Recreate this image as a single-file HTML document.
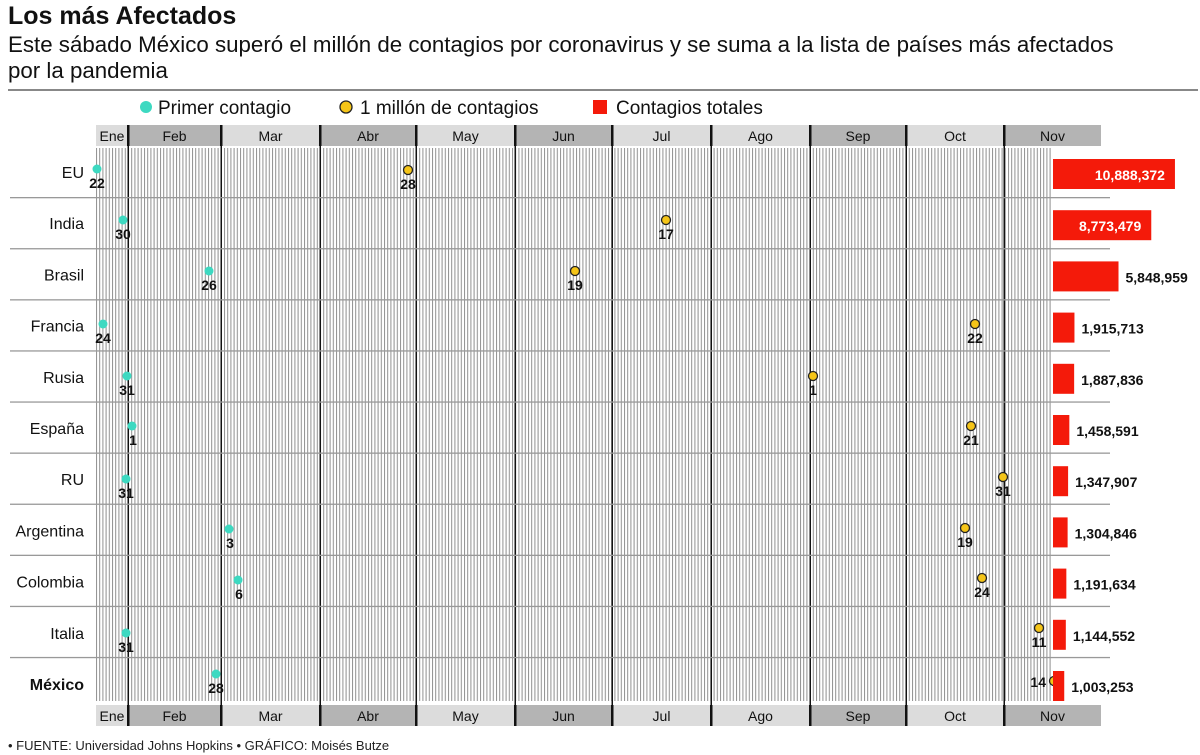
<!DOCTYPE html>
<html><head><meta charset="utf-8"><style>
body{margin:0;width:1200px;height:755px;background:#fff;overflow:hidden;font-family:"Liberation Sans",sans-serif}
svg{position:absolute;left:0;top:0}
</style></head><body>
<svg id="s" width="1200" height="755" font-family="Liberation Sans, sans-serif">
<defs>
<pattern id="g" x="96" y="0" width="3.2" height="10" patternUnits="userSpaceOnUse">
<rect x="0" y="0" width="1" height="10" fill="#8f8f8f"/>
</pattern>
</defs>
<text x="8" y="24" font-size="25" font-weight="bold" fill="#111">Los más Afectados</text>
<text x="8" y="52" font-size="22.3" fill="#111">Este sábado México superó el millón de contagios por coronavirus y se suma a la lista de países más afectados</text>
<text x="8" y="78" font-size="22.3" fill="#111">por la pandemia</text>
<rect x="8" y="89" width="1190" height="2" fill="#888"/>
<circle cx="146" cy="107" r="6" fill="#3dd9c1"/>
<text x="158" y="114" font-size="19" fill="#111">Primer contagio</text>
<circle cx="346" cy="107" r="6" fill="#f5c518" stroke="#222" stroke-width="1.3"/>
<text x="360" y="114" font-size="19" fill="#111">1 millón de contagios</text>
<rect x="593" y="100" width="14" height="14" fill="#f41a0a"/>
<text x="616" y="114" font-size="19" fill="#111">Contagios totales</text>
<rect x="96" y="148" width="955" height="553" fill="url(#g)"/>
<g id="dyn"></g>
<text x="8" y="750" font-size="13" fill="#222">• FUENTE: Universidad Johns Hopkins  • GRÁFICO: Moisés Butze</text>
</svg>
<script>
const NS="http://www.w3.org/2000/svg",d=document.getElementById('dyn');
function el(t,a,txt){const e=document.createElementNS(NS,t);for(const k in a)e.setAttribute(k,a[k]);if(txt!=null)e.textContent=txt;d.appendChild(e);return e;}
const ms=[["Ene",96,"#dcdcdc"],["Feb",128,"#b4b4b4"],["Mar",221,"#dcdcdc"],["Abr",320,"#b4b4b4"],["May",416,"#dcdcdc"],["Jun",515,"#b4b4b4"],["Jul",612,"#dcdcdc"],["Ago",711,"#dcdcdc"],["Sep",810,"#b4b4b4"],["Oct",906,"#dcdcdc"],["Nov",1004,"#b4b4b4"]];
ms.forEach((m,i)=>{const x2=i<ms.length-1?ms[i+1][1]:1101;
 [125,705].forEach(y=>{el('rect',{x:m[1],y:y,width:x2-m[1],height:21,fill:m[2]});
 el('text',{x:(m[1]+x2)/2,y:y+16,'font-size':14,'text-anchor':'middle',fill:'#111'},m[0]);
 if(i>0)el('rect',{x:m[1]-1,y:y,width:2.5,height:21,fill:'#111'});});
 if(i>0){el('rect',{x:m[1]-0.5,y:146,width:1.5,height:559,fill:'#111'});}
});
for(let i=0;i<10;i++){const y=197+i*51.1;el('rect',{x:10,y:y,width:1100,height:1.3,fill:'#999'});}
const rows=[["EU",97,169,22,408,170,28,10888372],["India",123,220,30,666,220,17,8773479],["Brasil",209,271,26,575,271,19,5848959],["Francia",103,324,24,975,324,22,1915713],["Rusia",127,376,31,813,376,1,1887836],["España",132,426,1,971,426,21,1458591],["RU",126,479,31,1003,477,31,1347907],["Argentina",229,529,3,965,528,19,1304846],["Colombia",238,580,6,982,578,24,1191634],["Italia",126,633,31,1039,628,11,1144552],["México",216,674,28,1054,681,14,1003253]];
rows.forEach((r,i)=>{const cy=172+i*51.2;
 el('text',{x:84,y:cy+6,'font-size':16,'text-anchor':'end',fill:'#111','font-weight':r[0]=="México"?'bold':'normal'},r[0]);
 el('circle',{cx:r[1],cy:r[2],r:4.5,fill:'#3dd9c1'});
 el('text',{x:r[1]+(r[3]<10?1:0),y:r[2]+19,'font-size':14,'font-weight':'bold','text-anchor':'middle',fill:'#111'},r[3]);
 el('circle',{cx:r[4],cy:r[5],r:4.5,fill:'#f5c518',stroke:'#222','stroke-width':1.3});
 if(r[0]=="México")el('text',{x:r[4]-8,y:r[5]+6,'font-size':14,'font-weight':'bold','text-anchor':'end',fill:'#111'},r[6]);
 else el('text',{x:r[4],y:r[5]+19,'font-size':14,'font-weight':'bold','text-anchor':'middle',fill:'#111'},r[6]);
 const w=r[7]/1e6*11.2, lab=r[7].toLocaleString('en-US');
 el('rect',{x:1053,y:cy-13,width:w,height:30,fill:'#f41a0a'});
 if(i<2)el('text',{x:1053+w-10,y:cy+8,'font-size':14,'font-weight':'bold','text-anchor':'end',fill:'#fff'},lab);
 else el('text',{x:1053+w+7,y:cy+8,'font-size':14,'font-weight':'bold',fill:'#111'},lab);
});
</script>
</body></html>
